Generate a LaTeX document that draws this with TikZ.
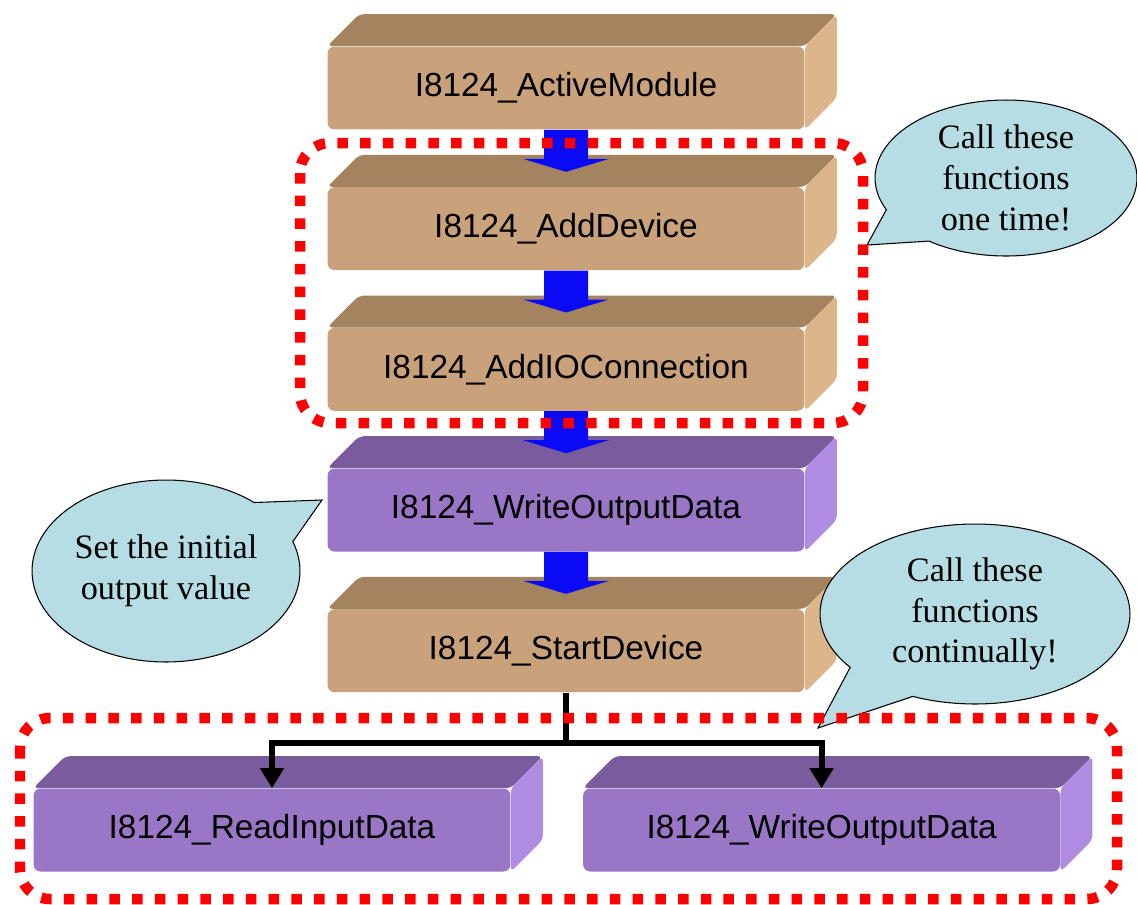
\documentclass[tikz,border=0pt]{standalone}
\usepackage{fontspec}
\setmainfont{Liberation Serif}
\newfontfamily\boxfont{Liberation Sans}
\usepackage{tikz}
\usetikzlibrary{shapes.callouts, arrows.meta, positioning}
\usepackage{xcolor}
\definecolor{tanfront}{HTML}{C9A27B}
\definecolor{tantop}{HTML}{A3845F}
\definecolor{tanside}{HTML}{DCB68A}
\definecolor{purfront}{HTML}{9A76C6}
\definecolor{purtop}{HTML}{7A5B9E}
\definecolor{purside}{HTML}{B08BE2}
\definecolor{arrowblue}{HTML}{0A0AF5}
\definecolor{framered}{HTML}{FF0000}
\definecolor{notecyan}{HTML}{B5DDE3}

\begin{document}
\begin{tikzpicture}[
    x=0.02cm, y=-0.02cm,
    fnbox/.style={rectangle, rounded corners=4pt, minimum width=9.54cm, minimum height=1.66cm, inner sep=0pt, font=\boxfont\fontsize{19}{23}\selectfont},
    tanbox/.style={fnbox, fill=tanfront},
    purbox/.style={fnbox, fill=purfront},
    face/.style={rounded corners=3pt},
    blockarrow/.style={fill=arrowblue},
    link/.style={-{Triangle[length=0.4cm, width=0.46cm]}, line width=0.12cm},
    dotframe/.style={draw=framered, line width=0.21cm, dash pattern=on 0.21cm off 0.245cm, rounded corners=0.6cm},
    note/.style={ellipse callout, draw, line width=0.6pt, fill=notecyan, inner sep=0pt, callout pointer arc=30, align=center, font=\fontsize{19.5}{23.2}\selectfont},
    node distance=1.14cm
]
    \useasboundingbox (0,0) rectangle (1137,904);

    % Function blocks
    \node[tanbox] (active) at (566,88) 		{I8124\_ActiveModule};
    \node[tanbox, below=of active] (adddev) 	{I8124\_AddDevice};
    \node[tanbox, below=of adddev] (addio) 	{I8124\_AddIOConnection};
    \node[purbox, below=of addio] (wrout) 		{I8124\_WriteOutputData};
    \node[tanbox, below=of wrout] (start) 		{I8124\_StartDevice};
    \node[purbox] (readin) at (272,830) 		{I8124\_ReadInputData};
    \node[purbox, right=1.44cm of readin] (wrout2) {I8124\_WriteOutputData};

    % Top and side faces
    \foreach \n/\t/\s in {active/tantop/tanside, adddev/tantop/tanside, addio/tantop/tanside, wrout/purtop/purside, start/tantop/tanside, readin/purtop/purside, wrout2/purtop/purside} {
        \fill[face, \t] (\n.north west) -- ++(32,-32) -- ([shift={(32,-32)}]\n.north east) -- (\n.north east) -- cycle;
        \fill[face, \s] (\n.north east) -- ++(32,-32) -- ([shift={(32,-32)}]\n.south east) -- (\n.south east) -- cycle;
    }

    % Block arrows
    \foreach \a/\b in {active/adddev, adddev/addio, addio/wrout, wrout/start}
        \fill[blockarrow] ([shift={(-22,0)}]\a.south) -- ([shift={(-22,-28)}]\b.north) -- ([shift={(-43,-28)}]\b.north) -- ([shift={(0,-15)}]\b.north) -- ([shift={(43,-28)}]\b.north) -- ([shift={(22,-28)}]\b.north) -- ([shift={(22,0)}]\a.south) -- cycle;

    % Branches
    \draw[link] (start.south) -- ++(0,50) -| (readin.north);
    \draw[link] (start.south) -- ++(0,50) -| (wrout2.north);

    % Notes
    \coordinate (tip1) at (867,245);
    \coordinate (tip2) at (322,500);
    \coordinate (tip3) at (818,728);
    \node[note, minimum width=5.24cm, minimum height=3.12cm, callout absolute pointer={(tip1)}] (note1) at (1006,178) {Call these\\functions\\one time!};
    \node[note, minimum width=5.36cm, minimum height=3.64cm, callout absolute pointer={(tip2)}] (note2) at (166,571) {Set the initial\\output value};
    \node[note, minimum width=6.2cm, minimum height=3.6cm, callout absolute pointer={(tip3)}] (note3) at (975,614) {Call these\\functions\\continually!};

    % Groups
    \draw[dotframe] (300,143) rectangle (863,423);
    \draw[dotframe] (20,718) rectangle (1117,899);
\end{tikzpicture}
\end{document}
